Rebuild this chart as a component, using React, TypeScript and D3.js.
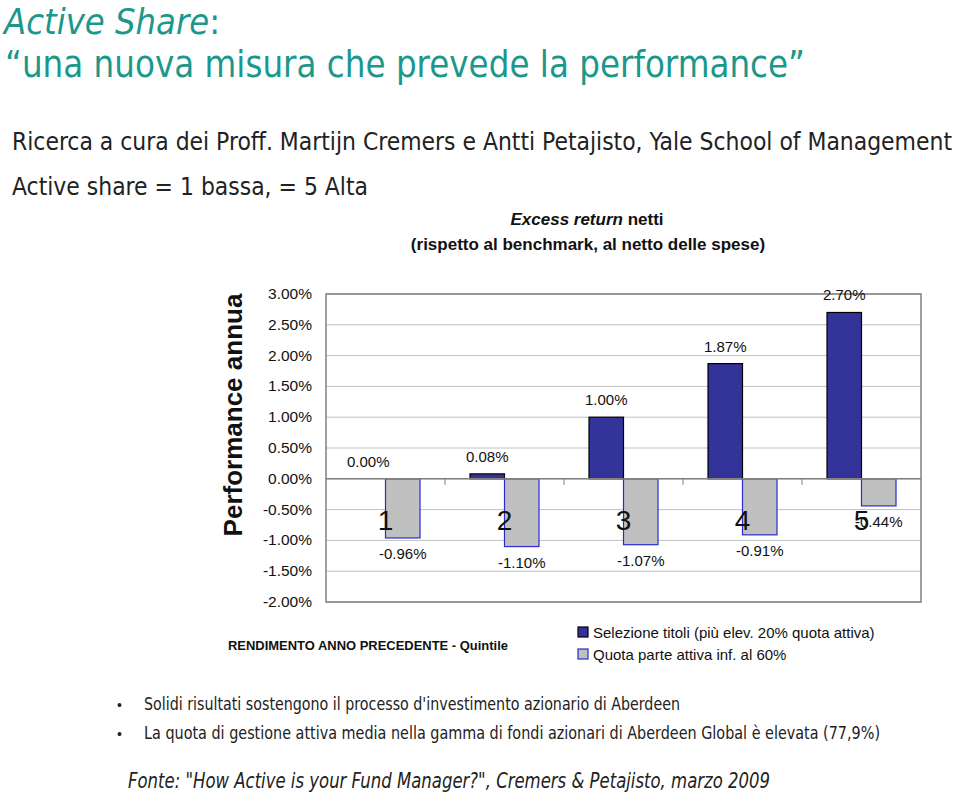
import React from 'react';
import * as d3 from 'd3';

// quintiles of previous-year return
const categories = ['1', '2', '3', '4', '5'];
// Selezione titoli (più elev. 20% quota attiva)
const selezione = [0.0, 0.08, 1.0, 1.87, 2.7];
// Quota parte attiva inf. al 60%
const quotaBassa = [-0.96, -1.1, -1.07, -0.91, -0.44];
const yTicks = [3, 2.5, 2, 1.5, 1, 0.5, 0, -0.5, -1, -1.5, -2];
const seriesNames = ['Selezione titoli (più elev. 20% quota attiva)', 'Quota parte attiva inf. al 60%'];

const teal = '#1b978b';
const narrow = '"DejaVu Sans Condensed", "DejaVu Sans", sans-serif';
const arial = 'Arial, "Liberation Sans", sans-serif';

export default function App() {
  const plot = { left: 326, right: 921, top: 294, bottom: 602 };

  const x = d3.scaleBand<string>().domain(categories).range([plot.left, plot.right]);
  const xs = d3.scaleBand<string>().domain(['sel', 'quota']).range([25, 94]);
  const y = d3.scaleLinear().domain([-2, 3]).range([plot.bottom, plot.top]);
  const fmt = (v: number) => v.toFixed(2) + '%';

  const bars = categories.flatMap((c, i) => [
    { c, key: 'sel', v: selezione[i] },
    { c, key: 'quota', v: quotaBassa[i] },
  ]);

  return (
    <svg width={960} height={792} style={{ position: 'absolute', left: 0, top: 0, background: '#fff' }}>
      {/* titles */}
      <text x={4} y={34} fill={teal} fontFamily={narrow} fontSize={36}>
        <tspan fontStyle="italic">Active Share</tspan>:
      </text>
      <text x={5} y={77} fill={teal} fontFamily={narrow} fontSize={38} textLength={800} lengthAdjust="spacingAndGlyphs">
        “una nuova misura che prevede la performance”
      </text>
      <text x={12} y={150} fill="#222" fontFamily={narrow} fontSize={25} textLength={940} lengthAdjust="spacingAndGlyphs">
        Ricerca a cura dei Proff. Martijn Cremers e Antti Petajisto, Yale School of Management
      </text>
      <text x={12} y={195} fill="#222" fontFamily={narrow} fontSize={25} textLength={356} lengthAdjust="spacingAndGlyphs">
        Active share = 1 bassa, = 5 Alta
      </text>
      <text x={587} y={225} textAnchor="middle" fontFamily={arial} fontSize={17} fontWeight="bold" fill="#111">
        <tspan fontStyle="italic">Excess return</tspan> netti
      </text>
      <text x={588} y={250} textAnchor="middle" fontFamily={arial} fontSize={17} fontWeight="bold" fill="#111">
        (rispetto al benchmark, al netto delle spese)
      </text>

      {/* grid */}
      {yTicks.map(t => (
        <line key={'g' + t} x1={plot.left} x2={plot.right} y1={y(t)} y2={y(t)} stroke="#c0c0c0" strokeWidth={1} />
      ))}
      <rect x={plot.left} y={plot.top} width={plot.right - plot.left} height={plot.bottom - plot.top}
        fill="none" stroke="#808080" strokeWidth={1.5} />
      {yTicks.map(t => (
        <text key={'t' + t} x={312} y={y(t) + 5} textAnchor="end" fontFamily={arial} fontSize={15.5} fill="#111">
          {fmt(t)}
        </text>
      ))}
      <text transform={`translate(242,${(plot.top + plot.bottom) / 2 - 33}) rotate(-90)`} textAnchor="middle"
        fontFamily={arial} fontSize={26} fontWeight="bold" fill="#111">
        Performance annua
      </text>

      {/* bars */}
      {bars.map(b => {
        const bx = (x(b.c) as number) + (xs(b.key) as number);
        const top = y(Math.max(0, b.v));
        const h = Math.abs(y(b.v) - y(0));
        return (
          <g key={b.c + b.key}>
            <rect x={bx} y={top} width={xs.bandwidth()} height={h}
              fill={b.key === 'sel' ? '#333399' : '#c0c0c0'}
              stroke={b.key === 'sel' ? '#000' : '#2a2ad0'} strokeWidth={1.2} />
            <text x={bx + xs.bandwidth() / 2} y={b.v >= 0 ? y(b.v) - 12 : y(b.v) + 21} textAnchor="middle"
              fontFamily={arial} fontSize={15} fill="#111">
              {fmt(b.v)}
            </text>
          </g>
        );
      })}

      {/* category axis on zero line */}
      <line x1={plot.left} x2={plot.right} y1={y(0)} y2={y(0)} stroke="#808080" strokeWidth={1.5} />
      {categories.slice(1).map(c => (
        <line key={'k' + c} x1={x(c)} x2={x(c)} y1={y(0)} y2={y(0) + 6} stroke="#808080" />
      ))}
      {categories.map(c => (
        <text key={'c' + c} x={(x(c) as number) + x.bandwidth() / 2} y={530} textAnchor="middle"
          fontFamily={arial} fontSize={28} fill="#111">
          {c}
        </text>
      ))}

      <text x={228} y={650} fontFamily={arial} fontSize={13} fontWeight="bold" fill="#111" textLength={280}
        lengthAdjust="spacingAndGlyphs">
        RENDIMENTO ANNO PRECEDENTE - Quintile
      </text>

      {/* legend */}
      {seriesNames.map((s, i) => (
        <g key={s} transform={`translate(578,${627 + i * 22})`}>
          <rect x={0} y={0} width={10} height={10} fill={i === 0 ? '#333399' : '#c0c0c0'}
            stroke={i === 0 ? '#000' : '#2a2ad0'} strokeWidth={1.2} />
          <text x={15} y={11} fontFamily={arial} fontSize={15} fill="#111">{s}</text>
        </g>
      ))}

      {/* bullets */}
      <text x={117} y={710} fontFamily={arial} fontSize={14} fill="#222">•</text>
      <text x={144} y={710} fontFamily={narrow} fontSize={18} fill="#222" textLength={536} lengthAdjust="spacingAndGlyphs">
        Solidi risultati sostengono il processo d'investimento azionario di Aberdeen
      </text>
      <text x={117} y={739} fontFamily={arial} fontSize={14} fill="#222">•</text>
      <text x={144} y={739} fontFamily={narrow} fontSize={18} fill="#222" textLength={736} lengthAdjust="spacingAndGlyphs">
        La quota di gestione attiva media nella gamma di fondi azionari di Aberdeen Global è elevata (77,9%)
      </text>
      <text x={128} y={788} fontFamily={narrow} fontSize={21} fontStyle="italic" fill="#222" textLength={642}
        lengthAdjust="spacingAndGlyphs">
        Fonte: "How Active is your Fund Manager?", Cremers &amp; Petajisto, marzo 2009
      </text>
    </svg>
  );
}
